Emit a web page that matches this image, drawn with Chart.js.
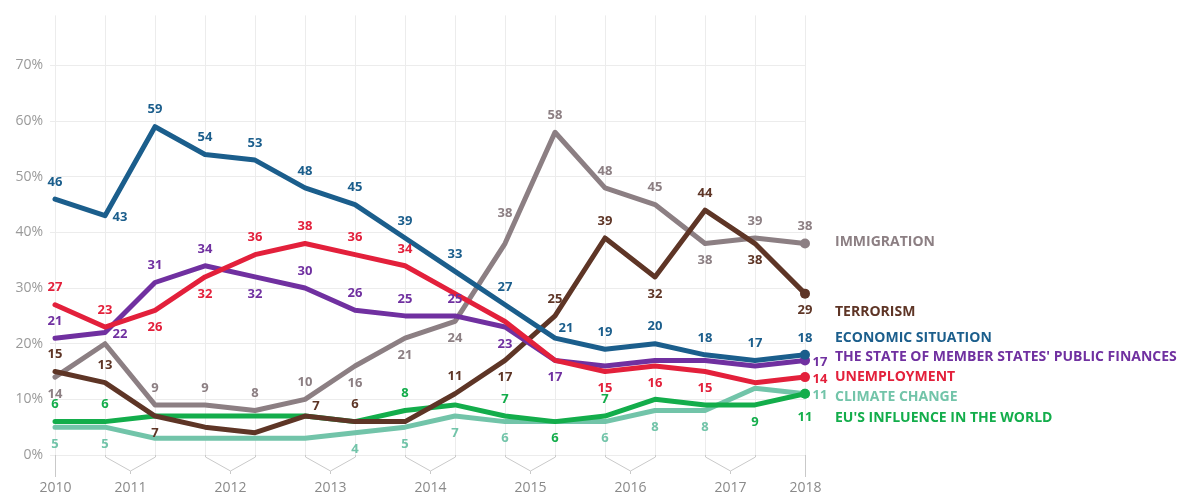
<!DOCTYPE html>
<html>
<head>
<meta charset="utf-8">
<script src="https://cdn.jsdelivr.net/npm/chart.js@4/dist/chart.umd.min.js"></script>
<style>
  html, body { margin: 0; background: #fff; }
  #wrap { width: 1184px; height: 499px; position: relative; }
</style>
</head>
<body>
<div id="wrap"><canvas id="chart"></canvas></div>
<script>
// survey waves (16), grouped under year labels on the axis
const waves = ["2010", "2011-1", "2011-2", "2012-1", "2012-2", "2013-1", "2013-2", "2014-1",
  "2014-2", "2015-1", "2015-2", "2016-1", "2016-2", "2017-1", "2017-2", "2018"];
const yearLabels = ["2010", "2011", "2012", "2013", "2014", "2015", "2016", "2017", "2018"];
const yearSpans = [[0, 0], [1, 2], [3, 4], [5, 6], [7, 8], [9, 10], [11, 12], [13, 14], [15, 15]];
const yTicks = [0, 10, 20, 30, 40, 50, 60, 70];

const economicSituation = [46, 43, 59, 54, 53, 48, 45, 39, 33, 27, 21, 19, 20, 18, 17, 18];
const unemployment = [27, 23, 26, 32, 36, 38, 36, 34, 29, 24, 17, 15, 16, 15, 13, 14];
const publicFinances = [21, 22, 31, 34, 32, 30, 26, 25, 25, 23, 17, 16, 17, 17, 16, 17];
const terrorism = [15, 13, 7, 5, 4, 7, 6, 6, 11, 17, 25, 39, 32, 44, 38, 29];
const immigration = [14, 20, 9, 9, 8, 10, 16, 21, 24, 38, 58, 48, 45, 38, 39, 38];
const euInfluence = [6, 6, 7, 7, 7, 7, 6, 8, 9, 7, 6, 7, 10, 9, 9, 11];
const climateChange = [5, 5, 3, 3, 3, 3, 4, 5, 7, 6, 6, 6, 8, 8, 12, 11];

// where each value label sits relative to its point ('' = no label)
const OFFSETS = { a: [0, -17], aa: [0, -30], b: [0, 17], bb: [0, 24], r: [15, 2], ar: [11, -10] };
const placement = {
  economic: ["a", "r", "a", "a", "a", "a", "a", "a", "a", "a", "ar", "a", "a", "a", "a", "a"],
  unemployment: ["a", "a", "b", "b", "a", "a", "a", "a", "", "", "", "b", "b", "b", "", "r"],
  finances: ["a", "r", "a", "a", "b", "a", "a", "a", "a", "b", "b", "", "", "", "", "r"],
  terrorism: ["a", "a", "b", "", "", "ar", "a", "", "a", "b", "a", "a", "b", "a", "b", "b"],
  immigration: ["b", "", "a", "a", "a", "a", "b", "b", "b", "aa", "a", "a", "a", "b", "a", "a"],
  eu: ["a", "a", "", "", "", "", "", "a", "", "a", "b", "a", "", "", "b", "bb"],
  climate: ["b", "b", "", "", "", "", "b", "b", "b", "b", "", "b", "b", "b", "", "r"],
};

function series(label, data, color, place, nameDy) {
  const n = data.length;
  return {
    label, data,
    borderColor: color,
    backgroundColor: color,
    borderWidth: 5,
    borderJoinStyle: "round",
    borderCapStyle: "round",
    tension: 0,
    pointRadius: data.map((v, i) => (i === n - 1 ? 5 : 0)),
    pointBackgroundColor: color,
    pointBorderWidth: 0,
    place, nameDy,
  };
}

const labelPlugin = {
  id: "pointLabels",
  afterDatasetsDraw(chart) {
    const ctx = chart.ctx;
    ctx.save();
    ctx.textBaseline = "middle";
    chart.data.datasets.forEach((ds, di) => {
      const meta = chart.getDatasetMeta(di);
      ctx.fillStyle = ds.borderColor;
      ctx.textAlign = "center";
      ctx.font = '700 13px "Open Sans"';
      meta.data.forEach((pt, i) => {
        const code = ds.place[i];
        if (!code) return;
        const [dx, dy] = OFFSETS[code];
        ctx.fillText(String(ds.data[i]), pt.x + dx, pt.y + dy);
      });
      const last = meta.data[meta.data.length - 1];
      ctx.textAlign = "left";
      ctx.font = '700 14px "Open Sans"';
      ctx.fillText(ds.label, chart.chartArea.right + 30, last.y + ds.nameDy);
    });
    ctx.restore();
  },
};

const yearAxisPlugin = {
  id: "yearAxis",
  afterDraw(chart) {
    const ctx = chart.ctx;
    const xs = chart.scales.x;
    const bottom = chart.chartArea.bottom;
    ctx.save();
    ctx.strokeStyle = "#c9c9c9";
    ctx.lineWidth = 1;
    ctx.fillStyle = "#8a8a8a";
    ctx.font = '14px "Open Sans"';
    ctx.textAlign = "center";
    ctx.textBaseline = "middle";
    yearSpans.forEach(([from, to], k) => {
      const xa = Math.round(xs.getPixelForValue(from)) + 0.5;
      const xb = Math.round(xs.getPixelForValue(to)) + 0.5;
      const mid = (xa + xb) / 2;
      ctx.beginPath();
      if (from === to) {
        ctx.moveTo(xa, bottom);
        ctx.lineTo(xa, bottom + 22);
      } else {
        ctx.moveTo(xa, bottom);
        ctx.lineTo(xa, bottom + 2);
        ctx.lineTo(mid, bottom + 16);
        ctx.lineTo(xb, bottom + 2);
        ctx.lineTo(xb, bottom);
        ctx.moveTo(mid, bottom + 16);
        ctx.lineTo(mid, bottom + 19);
      }
      ctx.stroke();
      ctx.fillText(yearLabels[k], mid, bottom + 33);
    });
    ctx.restore();
  },
};

new Chart(document.getElementById("chart"), {
  type: "line",
  data: {
    labels: waves,
    datasets: [
      series("ECONOMIC SITUATION", economicSituation, "#1b5e8c", placement.economic, -17),
      series("UNEMPLOYMENT", unemployment, "#e3203b", placement.unemployment, 0),
      series("THE STATE OF MEMBER STATES' PUBLIC FINANCES", publicFinances, "#7030a0", placement.finances, -3),
      series("TERRORISM", terrorism, "#5e3526", placement.terrorism, 18),
      series("IMMIGRATION", immigration, "#8c7f83", placement.immigration, -2),
      series("EU'S INFLUENCE IN THE WORLD", euInfluence, "#13ad4b", placement.eu, 24),
      series("CLIMATE CHANGE", climateChange, "#72c4a9", placement.climate, 3),
    ],
  },
  options: {
    responsive: true,
    maintainAspectRatio: false,
    animation: false,
    layout: { padding: { top: 12, right: 379, left: 0, bottom: 0 } },
    plugins: { legend: { display: false }, tooltip: { enabled: false } },
    scales: {
      x: {
        offset: false,
        grid: { color: "#ececec", lineWidth: 1, drawTicks: false },
        border: { display: false },
        ticks: { display: false },
        afterFit(s) { s.height = 44; },
      },
      y: {
        min: 0,
        max: 79,
        afterBuildTicks(s) { s.ticks = yTicks.map(v => ({ value: v })); },
        grid: { color: "#ececec", lineWidth: 1, tickLength: 5 },
        border: { display: false },
        ticks: {
          color: "#9a9a9a",
          font: { family: "Open Sans", size: 14 },
          padding: 7,
          callback: v => v + "%",
        },
        afterFit(s) { s.width = 55; },
      },
    },
  },
  plugins: [labelPlugin, yearAxisPlugin],
});
</script>
</body>
</html>
